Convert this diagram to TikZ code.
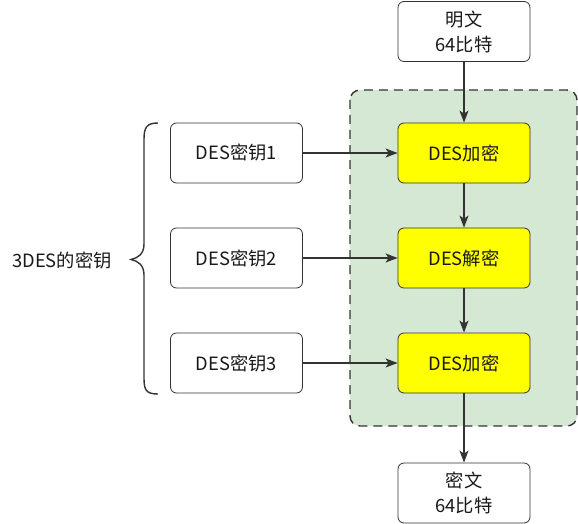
\documentclass[tikz,border=0pt]{standalone}
\usepackage{fontspec}
\setmainfont{Noto Sans CJK SC}
\usetikzlibrary{arrows.meta}
\definecolor{linecol}{HTML}{333333}
\definecolor{greenfill}{HTML}{D5E8D4}
\definecolor{yellowfill}{HTML}{FFFF00}
\tikzset{
  txt/.style={font=\fontsize{18.3}{25}\selectfont, text=black!90},
  box/.style={txt, draw=linecol, line width=0.8pt, rounded corners=6pt, minimum width=132pt, minimum height=60pt, align=center, inner sep=0pt},
  desbox/.style={box, fill=yellowfill},
  conn/.style={draw=linecol, line width=1.4pt, -{Stealth[length=12pt,width=9pt,inset=3pt]}},
}
\begin{document}
\begin{tikzpicture}[x=1pt,y=-1pt]
\useasboundingbox (0,0) rectangle (578,524);
\fill[white] (0,0) rectangle (578,524);
% container
\draw[draw=linecol, fill=greenfill, line width=1.4pt, dash pattern=on 9pt off 6pt, rounded corners=10pt] (350,90) rectangle (577,426);
% nodes
\node[box] (plain) at (464,31.5) {明文\\64比特};
\node[desbox] (enc1) at (464,153) {DES加密};
\node[desbox] (dec) at (464,258) {DES解密};
\node[desbox] (enc2) at (464,363) {DES加密};
\node[box] (cipher) at (464,493) {密文\\64比特};
\node[box] (k1) at (236.5,153) {DES密钥1};
\node[box] (k2) at (236.5,258) {DES密钥2};
\node[box] (k3) at (236.5,363) {DES密钥3};
\node[txt] (label) at (62,260) {3DES的密钥};
% connectors
\draw[conn] (plain) -- (enc1);
\draw[conn] (enc1) -- (dec);
\draw[conn] (dec) -- (enc2);
\draw[conn] (enc2) -- (cipher);
\draw[conn] (k1) -- (enc1);
\draw[conn] (k2) -- (dec);
\draw[conn] (k3) -- (enc2);
% brace
\draw[draw=linecol, line width=1.4pt] (158,123) .. controls (146,123) and (144,128) .. (144,140) -- (144,244) .. controls (144,254) and (138,258) .. (131,259.5) .. controls (138,261) and (144,265) .. (144,275) -- (144,378) .. controls (144,390) and (146,394) .. (158,394);
\end{tikzpicture}
\end{document}
